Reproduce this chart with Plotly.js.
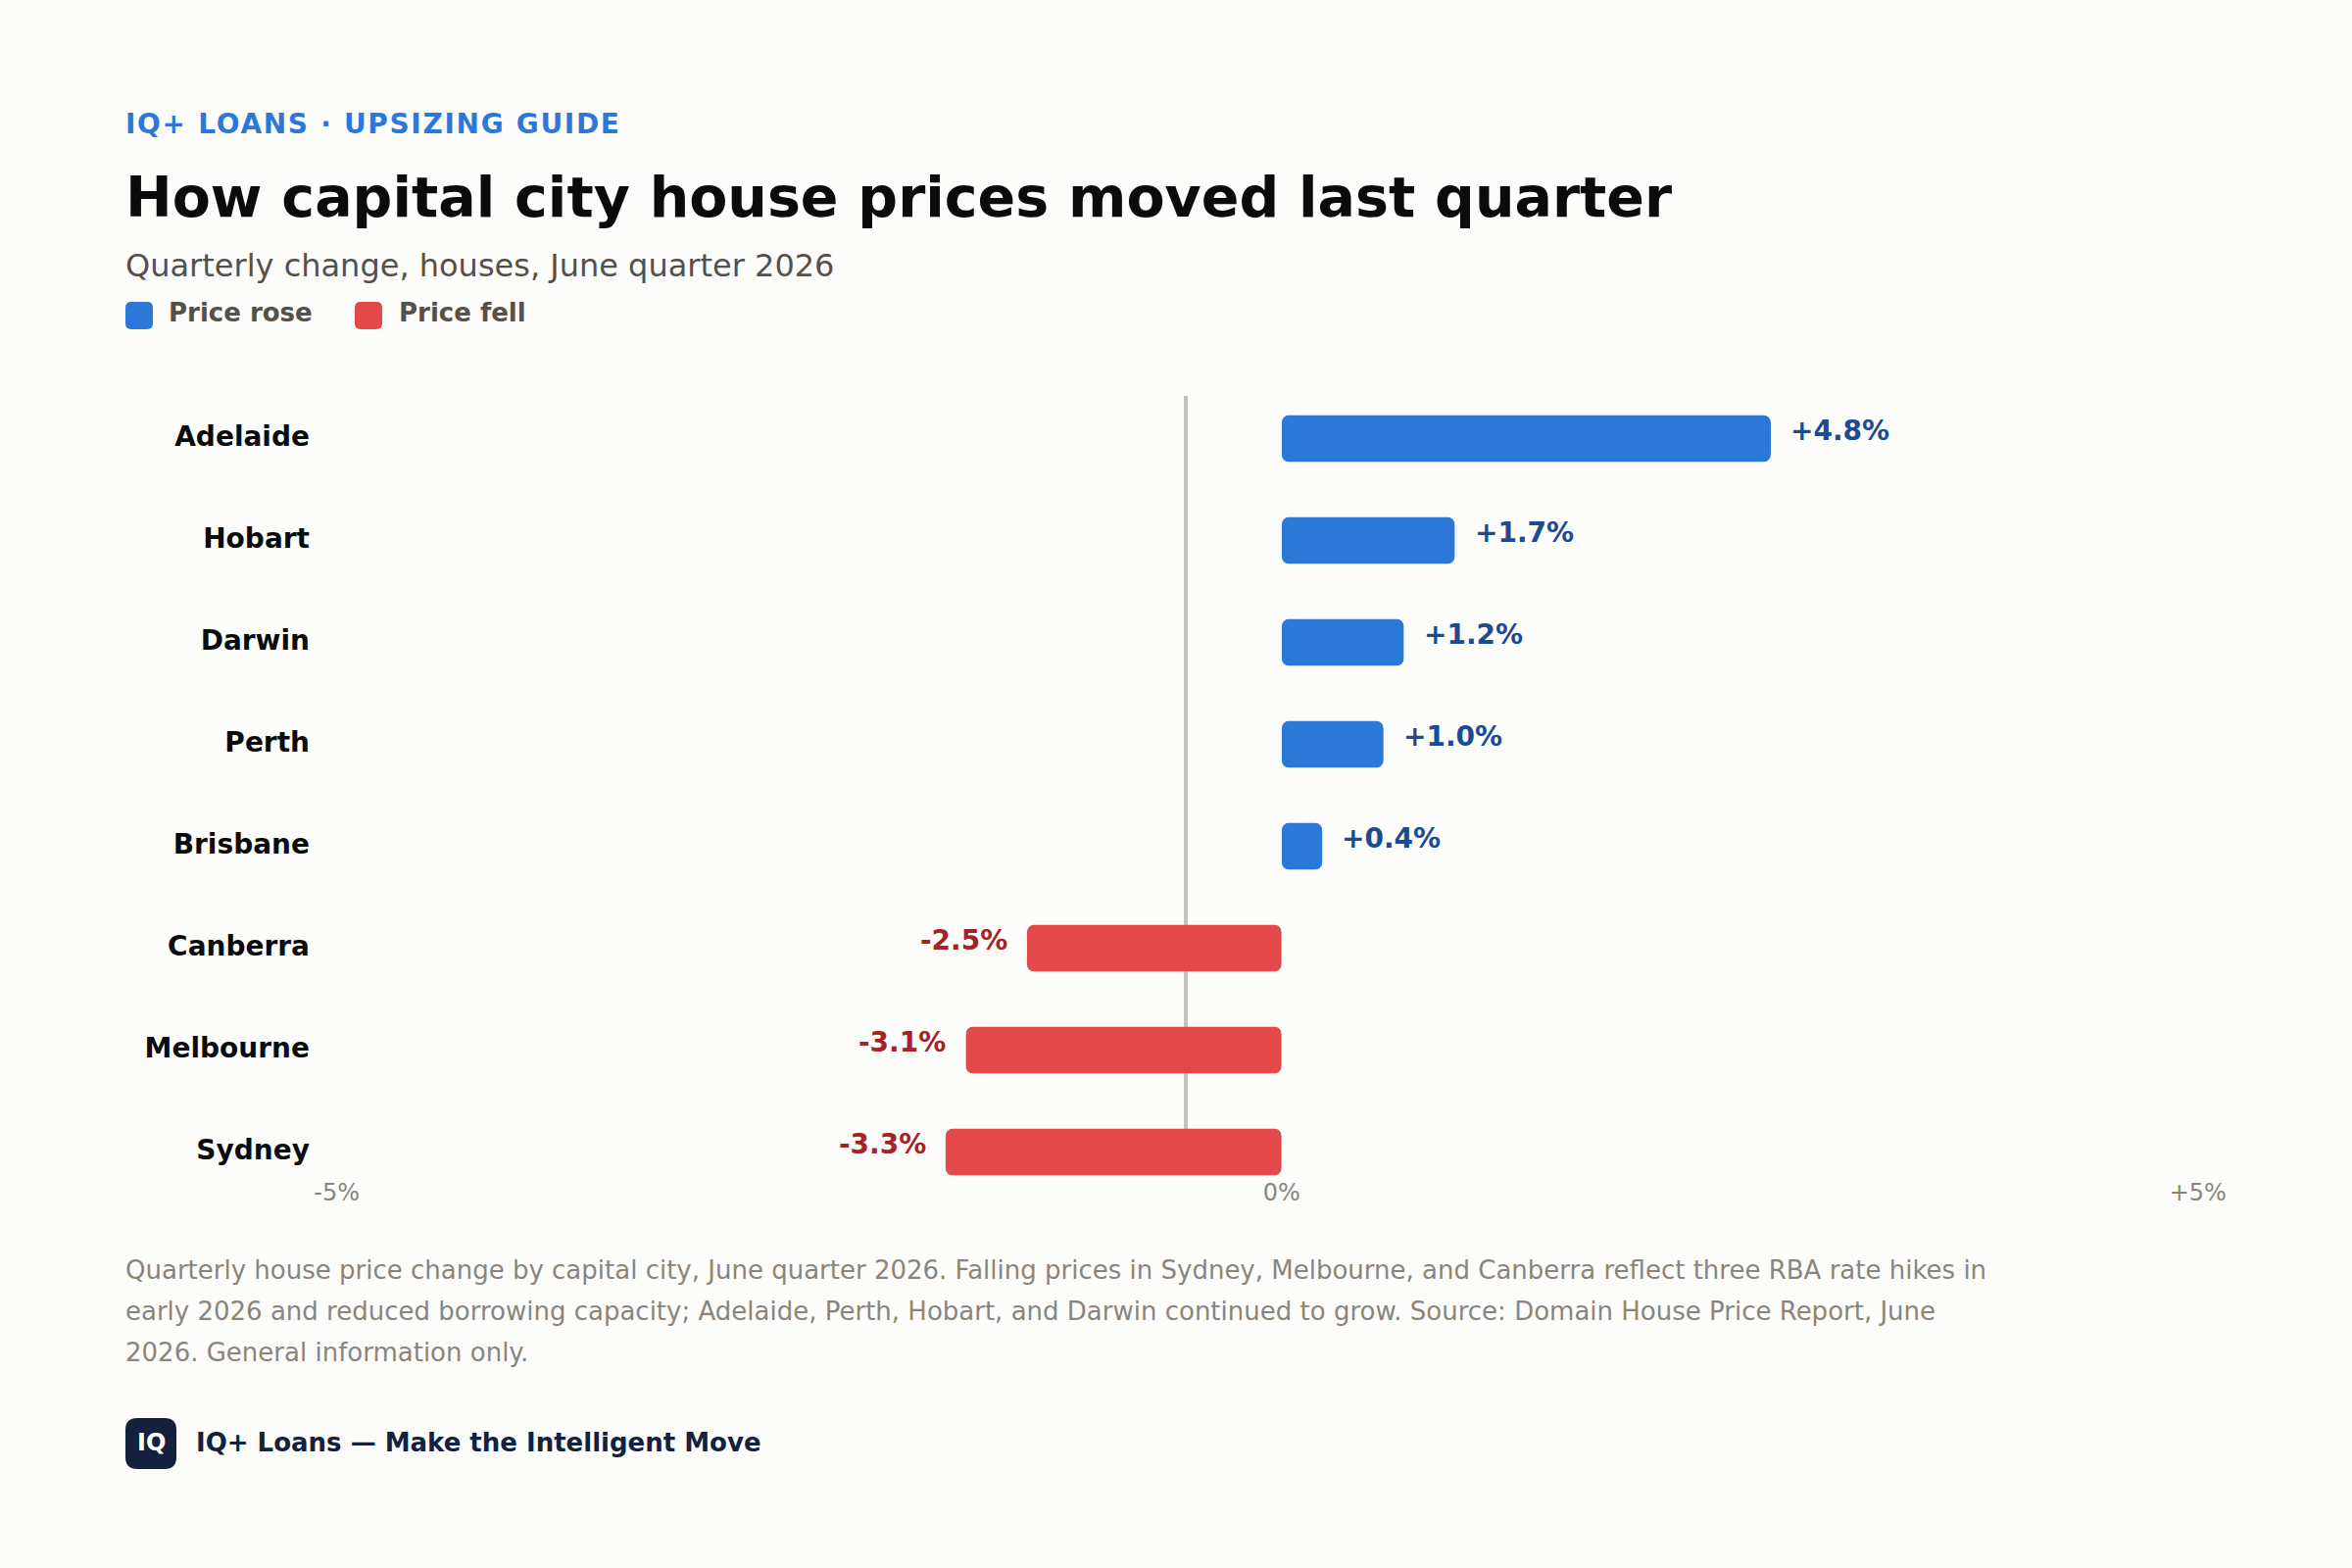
<!DOCTYPE html>
<html><head><meta charset="utf-8">
<script src="https://cdn.plot.ly/plotly-3.0.1.min.js"></script>
<style>
html,body{margin:0;padding:0;background:#FCFCFA;}
#chart{width:2400px;height:1600px;}
.barlayer .point path{clip-path:inset(0 round 8px);}
.annotation[data-index="0"] text{letter-spacing:1.68px;}
</style></head><body><div id="chart"></div>
<script>
const risingCities=["Adelaide","Hobart","Darwin","Perth","Brisbane"];
const risingValues=[4.8,1.7,1.2,1.0,0.4];
const fallingCities=["Canberra","Melbourne","Sydney"];
const fallingValues=[-2.5,-3.1,-3.3];
const cityOrder=[...risingCities,...fallingCities];
const tickPositions=[-9.27,0,8.99];
const tickLabels=["-5%","0%","+5%"];
const referenceLineAt=-0.94;
const footnoteLines=[
"Quarterly house price change by capital city, June quarter 2026. Falling prices in Sydney, Melbourne, and Canberra reflect three RBA rate hikes in",
"early 2026 and reduced borrowing capacity; Adelaide, Perth, Hobart, and Darwin continued to grow. Source: Domain House Price Report, June",
"2026. General information only."];

const FONT='"DejaVu Sans", sans-serif';
const BLUE='#2B78D8',RED='#E34949',BLUE_TXT='#1B4B93',RED_TXT='#A32327',GREY='#8A857C',NAVY='#14213D',BG='#FCFCFA';
const L=320,R=2272,T=404,B=1200;
const px=v=>(v-L)/(R-L), py=v=>1-(v-T)/(B-T);

function roundRect(x0,y0,x1,y1,r,fill){
  const X=v=>px(v).toFixed(5),Y=v=>py(v).toFixed(5);
  const p=`M${X(x0+r)},${Y(y0)}L${X(x1-r)},${Y(y0)}Q${X(x1)},${Y(y0)} ${X(x1)},${Y(y0+r)}L${X(x1)},${Y(y1-r)}Q${X(x1)},${Y(y1)} ${X(x1-r)},${Y(y1)}L${X(x0+r)},${Y(y1)}Q${X(x0)},${Y(y1)} ${X(x0)},${Y(y1-r)}L${X(x0)},${Y(y0+r)}Q${X(x0)},${Y(y0)} ${X(x0+r)},${Y(y0)}Z`;
  return {type:'path',path:p,xref:'paper',yref:'paper',fillcolor:fill,line:{width:0},layer:'above'};
}
function note(text,x,y,size,color,bold,anchor){
  return {text:bold?`<b>${text}</b>`:text,xref:'paper',yref:'paper',x:px(x),y:py(y),xanchor:anchor||'left',yanchor:'middle',
    showarrow:false,align:'left',font:{family:FONT,size,color}};
}
const fmt=v=>(v>0?'+':'')+v.toFixed(1)+'%';
const valueNote=(city,v)=>({text:`<b>${fmt(v)}</b>`,x:v,y:city,xref:'x',yref:'y',xshift:v>0?18:-18,yshift:8,
  xanchor:v>0?'left':'right',yanchor:'middle',showarrow:false,font:{family:FONT,size:28,color:v>0?BLUE_TXT:RED_TXT}});

const annotations=[
  note('IQ+ LOANS · UPSIZING GUIDE',126,126.5,28,BLUE,true),
  note('Quarterly change, houses, June quarter 2026',126,271,32,'#55504A',false),
  note('Price rose',170,319,26,'#55504A',true),
  note('Price fell',405,319,26,'#55504A',true),
  ...footnoteLines.map((t,i)=>note(t,126,1296+i*42,26,GREY,false)),
  note('IQ',154,1472,24,'#FFFFFF',true,'center'),
  note('IQ+ Loans — Make the Intelligent Move',198,1471.5,26,NAVY,true),
  ...risingCities.map((c,i)=>valueNote(c,risingValues[i])),
  ...fallingCities.map((c,i)=>valueNote(c,fallingValues[i]))
];

const bar=(name,y,x,color)=>({type:'bar',orientation:'h',name,y,x,marker:{color,line:{width:0}},showlegend:false,hoverinfo:'y+x',cliponaxis:false});

Plotly.newPlot('chart',[
  bar('Price rose',risingCities,risingValues,BLUE),
  bar('Price fell',fallingCities,fallingValues,RED)
],{
  width:2400,height:1600,paper_bgcolor:BG,plot_bgcolor:BG,
  margin:{l:L,r:2400-R,t:T,b:1600-B,pad:0},
  title:{text:'<b>How capital city house prices moved last quarter</b>',xref:'container',x:128/2400,xanchor:'left',yref:'container',y:1-201/1600,yanchor:'middle',font:{family:FONT,size:57,color:'#0B0B0B'}},
  barmode:'overlay',bargap:0.5385,showlegend:false,
  xaxis:{range:[-9.498,9.271],tickmode:'array',tickvals:tickPositions,ticktext:tickLabels,showgrid:false,zeroline:false,showline:false,ticks:'',tickfont:{family:FONT,size:24,color:GREY},ticklabelstandoff:0,fixedrange:true},
  yaxis:{type:'category',categoryorder:'array',categoryarray:cityOrder,range:[7.2358,-0.4181],showgrid:false,zeroline:false,showline:false,ticks:'',tickfont:{family:FONT,size:28,color:'#0B0B0B',weight:700},ticklabelstandoff:3,fixedrange:true},
  shapes:[
    {type:'line',xref:'x',yref:'paper',x0:referenceLineAt,x1:referenceLineAt,y0:0.02,y1:1,line:{color:'#C2C2B6',width:4},layer:'below'},
    roundRect(128,308,156,336,6,BLUE),
    roundRect(362,308,390,336,6,RED),
    roundRect(128,1447,180,1499,12,NAVY)
  ],
  annotations
},{staticPlot:true,displayModeBar:false}).then(()=>{
  // City labels sit slightly above the row centre in the reference.
  document.querySelectorAll('.yaxislayer-above .ytick text').forEach(t=>{t.setAttribute('dy','-2.5');});
});
</script></body></html>
